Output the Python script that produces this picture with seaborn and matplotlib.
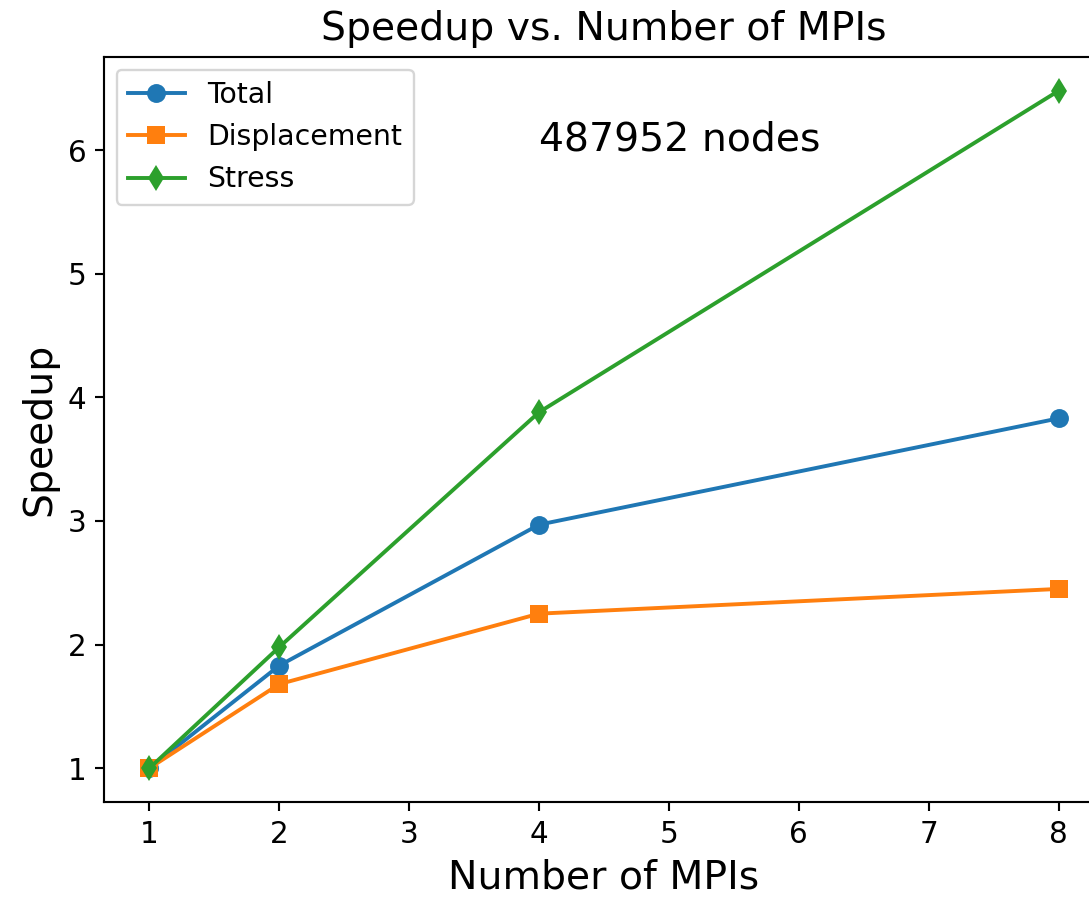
import matplotlib
matplotlib.use("Agg")
import matplotlib.pyplot as plt
import seaborn as sns
import pandas as pd

mpis = [1, 2, 4, 8]
total = [1.0, 1.83, 2.97, 3.83]
displacement = [1.0, 1.68, 2.25, 2.45]
stress = [1.0, 1.98, 3.88, 6.48]
series_names = ["Total", "Displacement", "Stress"]

DPI = 170
fig = plt.figure(figsize=(1089 / DPI, 897 / DPI), dpi=DPI)
W, H = 1089, 897
ax = fig.add_axes([104 / W, (H - 802) / H, (1104 - 104) / W, (802 - 57) / H])

colors = ["#1f77b4", "#ff7f0e", "#2ca02c"]
markers = ["o", "s", "d"]
for name, vals, c, m in zip(series_names, [total, displacement, stress], colors, markers):
    df = pd.DataFrame({"MPIs": mpis, "Speedup": vals})
    sns.lineplot(data=df, x="MPIs", y="Speedup", ax=ax, color=c, marker=m,
                 markersize=8, markeredgewidth=0, linewidth=1.65, label=name)

ax.set_xticks([1, 2, 3, 4, 5, 6, 7, 8])
ax.set_yticks([1, 2, 3, 4, 5, 6])
ax.tick_params(labelsize=12.5, length=4, width=0.9)
for s in ax.spines.values():
    s.set_linewidth(0.9)
ax.set_xlabel("Number of MPIs", fontsize=16.7)
ax.set_ylabel("Speedup", fontsize=16.7)
ax.set_title("Speedup vs. Number of MPIs", fontsize=16.7, pad=7)
ax.text(4, 6, "487952 nodes", fontsize=16.7)
ax.legend(loc="upper left", fontsize=12, borderaxespad=0.45)

fig.savefig("out.png", dpi=DPI)
